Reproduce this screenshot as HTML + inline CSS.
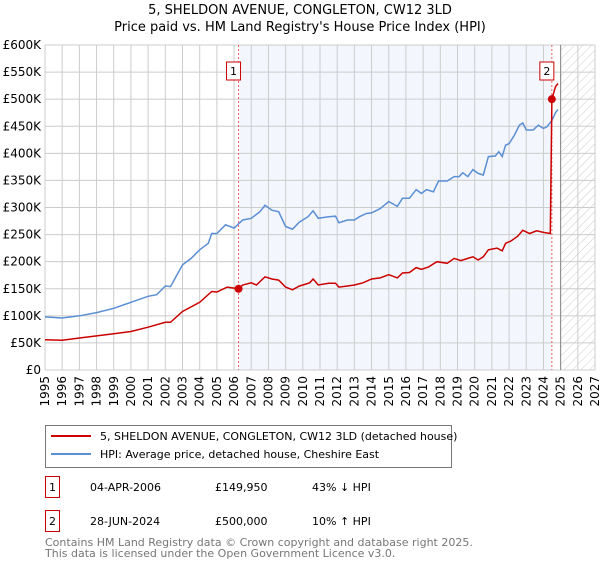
<!DOCTYPE html>
<html><head><meta charset="utf-8"><style>
body{margin:0;background:#fff;font-family:"DejaVu Sans","Liberation Sans",sans-serif;}
svg text{font-family:"DejaVu Sans","Liberation Sans",sans-serif;}
</style></head><body>
<svg id="chart" width="600" height="560" xmlns="http://www.w3.org/2000/svg">
<defs><pattern id="hatch" width="6" height="6" patternUnits="userSpaceOnUse" patternTransform="rotate(45)"><line x1="0" y1="0" x2="0" y2="6" stroke="#ccc" stroke-width="1"/></pattern></defs>
<text x="300" y="14" text-anchor="middle" font-size="13" fill="#000">5, SHELDON AVENUE, CONGLETON, CW12 3LD</text>
<text x="300" y="31" text-anchor="middle" font-size="13" fill="#000">Price paid vs. HM Land Registry's House Price Index (HPI)</text>
<g id="plot"></g>
</svg>
<script>
const hpiYears=[1995,1996,1997,1998,1999,2000,2001,2001.5,2002,2002.3,2003,2003.5,2004,2004.5,2004.7,2005,2005.5,2006,2006.5,2007,2007.5,2007.8,2008.2,2008.6,2009,2009.4,2009.8,2010,2010.3,2010.6,2010.9,2011.5,2011.9,2012.1,2012.6,2013,2013.3,2013.7,2014,2014.5,2015,2015.5,2015.8,2016.2,2016.6,2016.9,2017.2,2017.6,2017.9,2018.4,2018.8,2019.1,2019.3,2019.6,2019.9,2020.2,2020.5,2020.8,2021.2,2021.4,2021.6,2021.8,2022.0,2022.3,2022.6,2022.8,2023.0,2023.4,2023.7,2024.0,2024.2,2024.5,2024.7,2024.85];
const hpiValues=[98,96,100,106,114,125,136,139,155,154,194,206,222,234,252,252,268,262,277,280,292,304,295,292,265,260,273,277,283,294,280,283,284,272,277,277,283,289,290,298,311,302,317,317,333,326,333,329,349,349,357,357,364,357,370,363,360,394,395,403,394,415,418,433,452,456,443,443,452,446,449,461,475,481];
const priceYears=[1995,1996,1997,1998,1999,2000,2001,2002,2002.3,2003,2004,2004.7,2005,2005.6,2006.26,2006.5,2007,2007.3,2007.8,2008.2,2008.6,2009,2009.4,2009.8,2010,2010.4,2010.6,2010.9,2011.5,2011.9,2012.1,2012.6,2013,2013.5,2014,2014.5,2015,2015.5,2015.8,2016.2,2016.6,2016.9,2017.3,2017.8,2018.4,2018.8,2019.2,2019.6,2019.9,2020.2,2020.5,2020.8,2021.3,2021.6,2021.8,2022.1,2022.5,2022.8,2023.2,2023.6,2024.0,2024.4,2024.49,2024.7,2024.85];
const priceValues=[56,55,59,63,67,71,79,88,88,108,125,145,144,153,149.95,157,161,157,172,168,166,153,148,155,157,161,168,157,160,160,153,155,157,161,168,170,176,170,179,180,189,186,190,200,197,206,202,206,209,203,209,222,225,220,234,238,247,258,252,257,254,252,500,523,529];
const saleYears=[2006.26,2024.49];
const saleValues=[149.95,500];
const saleLabels=["1","2"];
const yTicks=[0,50,100,150,200,250,300,350,400,450,500,550,600];
const yTickLabels=["£0","£50K","£100K","£150K","£200K","£250K","£300K","£350K","£400K","£450K","£500K","£550K","£600K"];
const xTicks=[1995,1996,1997,1998,1999,2000,2001,2002,2003,2004,2005,2006,2007,2008,2009,2010,2011,2012,2013,2014,2015,2016,2017,2018,2019,2020,2021,2022,2023,2024,2025,2026,2027];
const dataEnd=2025.0;

const L=45,R=595,T=45,B=370;
const xs=y=>L+(y-1995)/(2027-1995)*(R-L);
const ys=v=>B-v/600*(B-T);
const NS="http://www.w3.org/2000/svg";
const g=document.getElementById('plot');
function mk(tag,attrs,parent){const e=document.createElementNS(NS,tag);for(const k in attrs)e.setAttribute(k,attrs[k]);(parent||g).appendChild(e);return e;}

let e=mk('rect',{x:L,y:T,width:R-L,height:B-T,fill:'#fff'});


e=mk('rect',{x:xs(saleYears[0]),y:T,width:xs(saleYears[1])-xs(saleYears[0]),height:B-T,fill:'#eef2fc',opacity:0.7});


e=mk('rect',{x:xs(dataEnd),y:T,width:R-xs(dataEnd),height:B-T,fill:'url(#hatch)'});


xTicks.forEach(t=>{
 let l=mk('line',{x1:xs(t),x2:xs(t),y1:T,y2:B,stroke:'#ccc','stroke-width':1});
 
 
 let tx=mk('text',{x:0,y:0,'font-size':12,fill:'#000','text-anchor':'end',transform:`translate(${xs(t)+4},${B+6}) rotate(-90)`});
 tx.textContent=t;
 
 
});
yTicks.forEach((t,i)=>{
 let l=mk('line',{x1:L,x2:R,y1:ys(t),y2:ys(t),stroke:'#ccc','stroke-width':1});
 
 
 let tx=mk('text',{x:L-4,y:ys(t)+4,'font-size':12,fill:'#000','text-anchor':'end'});
 tx.textContent=yTickLabels[i];
 
 
});
e=mk('line',{x1:xs(dataEnd),x2:xs(dataEnd),y1:T,y2:B,stroke:'#888','stroke-width':1});


saleYears.forEach((s,i)=>{
 let l=mk('line',{x1:xs(s),x2:xs(s),y1:T,y2:B,stroke:'#f06060','stroke-width':1,'stroke-dasharray':'2,2'});
 
 
});
const pathOf=(xa,va)=>xa.map((x,i)=>(i?'L':'M')+xs(x).toFixed(1)+','+ys(va[i]).toFixed(1)).join(' ');
e=mk('path',{d:pathOf(hpiYears,hpiValues),fill:'none',stroke:'#5b8fd4','stroke-width':1.5});


e=mk('path',{d:pathOf(priceYears,priceValues),fill:'none',stroke:'#cc0000','stroke-width':1.5});


saleYears.forEach((s,i)=>{
 let c=mk('circle',{cx:xs(s),cy:ys(saleValues[i]),r:4,fill:'#cc0000'});
 
 
 let bx=xs(s)-12;
 let r=mk('rect',{x:bx-0,y:62,width:14,height:18,fill:'#fff',stroke:'#cc0000','stroke-width':1});
 
 
 let t=mk('text',{x:bx+7,y:75,'font-size':11,'text-anchor':'middle',fill:'#000'});
 t.textContent=saleLabels[i];
 
 
});
// legend
const svg=document.getElementById('chart');
e=mk('rect',{x:45.5,y:425.5,width:406,height:42,fill:'#fff',stroke:'#777','stroke-width':1},svg);


[['#cc0000','5, SHELDON AVENUE, CONGLETON, CW12 3LD (detached house)',440,'legend-entry-price'],['#5b8fd4','HPI: Average price, detached house, Cheshire East',458,'legend-entry-hpi']].forEach(d=>{
 let l=mk('line',{x1:51,x2:91,y1:d[2]-4,y2:d[2]-4,stroke:d[0],'stroke-width':2},svg);
 
 
 let t=mk('text',{x:100,y:d[2],'font-size':11,fill:'#000'},svg);
 t.textContent=d[1];
 
 
});
[['1','04-APR-2006','£149,950','43% ↓ HPI',476],['2','28-JUN-2024','£500,000','10% ↑ HPI',510]].forEach(r=>{
 let b=mk('rect',{x:45.5,y:r[4]+0.5,width:14,height:21,fill:'#fff',stroke:'#cc0000','stroke-width':1},svg);
 
 
 [[52.5,r[0],'middle','table-marker'],[90,r[1],'start','table-date'],[215,r[2],'start','table-price'],[312,r[3],'start','table-hpi-diff']].forEach(c=>{
  let t=mk('text',{x:c[0],y:r[4]+15,'font-size':11,fill:'#000','text-anchor':c[2]},svg);
  t.textContent=c[1];
  
  
 });
});
[['Contains HM Land Registry data © Crown copyright and database right 2025.',546],['This data is licensed under the Open Government Licence v3.0.',557]].forEach(f=>{
 let t=mk('text',{x:45,y:f[1],'font-size':11,fill:'#777'},svg);
 t.textContent=f[0];
 
 
});
</script>
</body></html>
